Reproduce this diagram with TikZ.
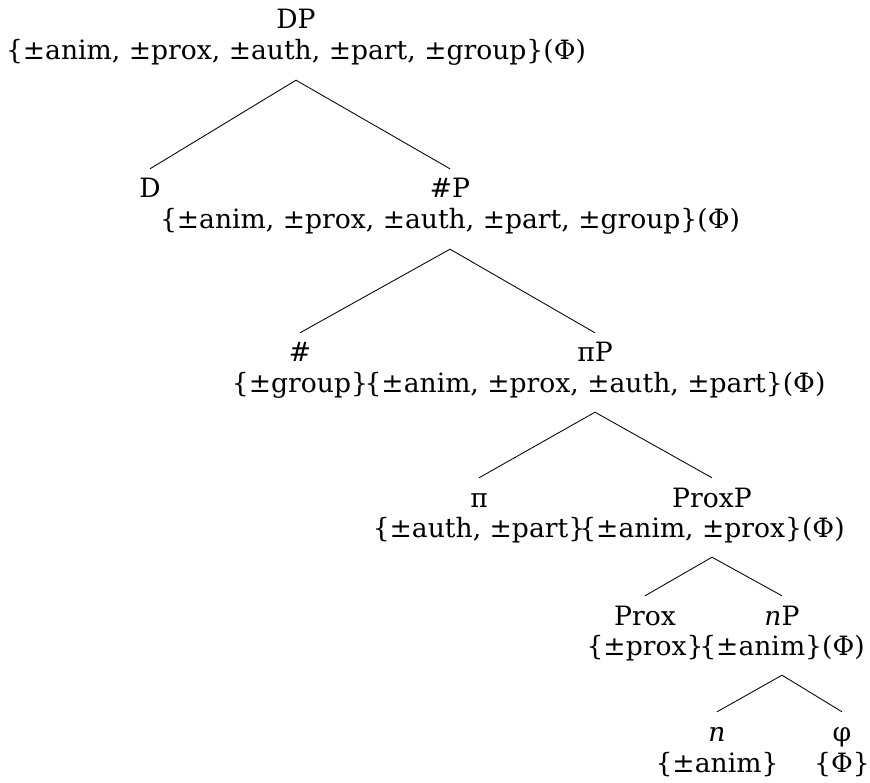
\documentclass[tikz,border=0pt]{standalone}
\usepackage{fontspec}
\setmainfont{DejaVu Serif}
\begin{document}
\begin{tikzpicture}[x=1pt,y=-1pt,
  txt/.style={font=\fontsize{26.6}{31}\selectfont, inner xsep=0pt, anchor=base},
  lab/.style={txt, text height=19pt, text depth=0pt, inner ysep=10pt},
  feat/.style={txt, text height=19pt, text depth=7pt, inner ysep=13pt},
  branch/.style={draw=black, line width=0.85pt}]
\useasboundingbox (0,0) rectangle (870,783);
% level 1
\node[lab]  (DP)  at (296,29)  {DP};
\node[feat] (DPf) at (296,60)  {\{±anim, ±prox, ±auth, ±part, ±group\}(Φ)};
% level 2
\node[lab]  (D)   at (150,198) {D};
\node[lab]  (NP)  at (450,198) {\#P};
\node[feat] (NPf) at (450,229) {\{±anim, ±prox, ±auth, ±part, ±group\}(Φ)};
% level 3
\node[lab]  (N)   at (300,362) {\#};
\node[feat] (Nf)  at (300,392) {\{±group\}};
\node[lab]  (PP)  at (595,362) {πP};
\node[feat] (PPf) at (595,392) {\{±anim, ±prox, ±auth, ±part\}(Φ)};
% level 4
\node[lab]  (Pi)  at (479,507) {π};
\node[feat] (Pif) at (479,537) {\{±auth, ±part\}};
\node[lab]  (XP)  at (712,507) {ProxP};
\node[feat] (XPf) at (712,537) {\{±anim, ±prox\}(Φ)};
% level 5
\node[lab]  (X)   at (645,625) {Prox};
\node[feat] (Xf)  at (645,655) {\{±prox\}};
\node[lab]  (nP)  at (782,625) {\textit{n}P};
\node[feat] (nPf) at (782,655) {\{±anim\}(Φ)};
% level 6
\node[lab]  (n)   at (717,741) {\textit{n}};
\node[feat] (nf)  at (717,772) {\{±anim\}};
\node[lab]  (ph)  at (842,741) {φ};
\node[feat] (phf) at (842,772) {\{Φ\}};
% branches
\draw[branch] (D.north) -- (DPf.south) -- (NP.north);
\draw[branch] (N.north) -- (NPf.south) -- (PP.north);
\draw[branch] (Pi.north) -- (PPf.south) -- (XP.north);
\draw[branch] (X.north) -- (XPf.south) -- (nP.north);
\draw[branch] (n.north) -- (nPf.south) -- (ph.north);
\end{tikzpicture}
\end{document}
